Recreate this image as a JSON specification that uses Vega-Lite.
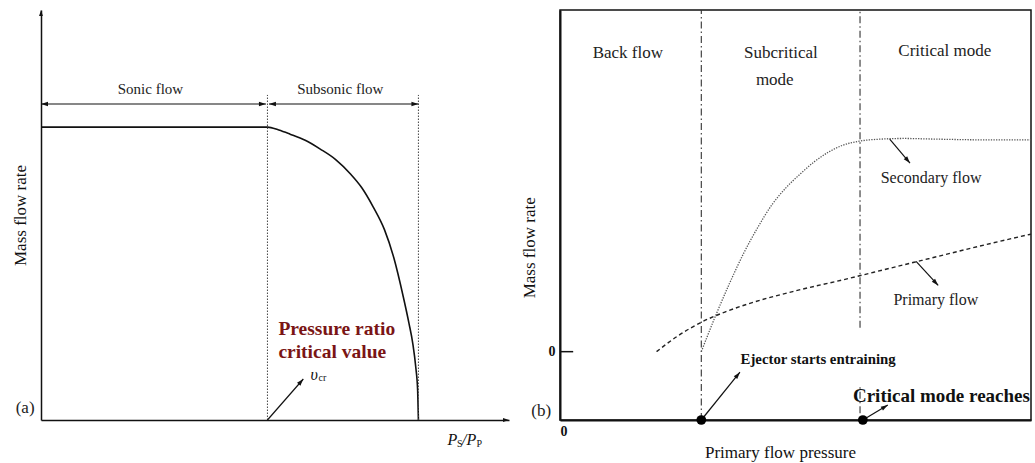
{
  "$schema": "https://vega.github.io/schema/vega-lite/v6.json",
  "background": "white",
  "padding": {"left": 11, "top": 8, "right": 4, "bottom": 4},
  "spacing": 51,
  "bounds": "flush",
  "config": {"font": "Liberation Serif", "view": {"stroke": null}},
  "datasets": {
    "flowA": [
      {"x": 0, "y": 1.0}, {"x": 0.6, "y": 1.0}, {"x": 0.63, "y": 0.99}, {"x": 0.66, "y": 0.976},
      {"x": 0.7, "y": 0.955}, {"x": 0.74, "y": 0.925}, {"x": 0.78, "y": 0.89}, {"x": 0.82, "y": 0.84},
      {"x": 0.85, "y": 0.793}, {"x": 0.88, "y": 0.728}, {"x": 0.91, "y": 0.65}, {"x": 0.935, "y": 0.553},
      {"x": 0.96, "y": 0.42}, {"x": 0.975, "y": 0.33}, {"x": 0.985, "y": 0.262}, {"x": 0.993, "y": 0.18},
      {"x": 0.998, "y": 0.1}, {"x": 1.0, "y": 0.0}
    ],
    "dottedA": [{"x": 0.6, "y": 0, "y2": 1.11}, {"x": 1.0, "y": 0, "y2": 1.11}],
    "spansA": [{"x": 0, "x2": 0.596, "y": 1.079}, {"x": 0.604, "x2": 1.0, "y": 1.079}],
    "headsLeftA": [{"x": 0, "y": 1.079}, {"x": 0.604, "y": 1.079}],
    "headsRightA": [{"x": 0.596, "y": 1.079}, {"x": 1.0, "y": 1.079}],
    "spanLabelsA": [{"x": 0.29, "y": 1.13, "label": "Sonic flow"}, {"x": 0.793, "y": 1.13, "label": "Subsonic flow"}],
    "noteA": [
      {"x": 0.629, "y": 0.311, "label": "Pressure ratio"},
      {"x": 0.629, "y": 0.232, "label": "critical value"}
    ],
    "vcrArrow": [{"x": 0.6, "y": 0, "x2": 0.695, "y2": 0.14}],
    "vcrHead": [{"x": 0.695, "y": 0.14}],
    "vcrText": [{"x": 0.714, "y": 0.154, "main": "υ", "sub": "cr"}],
    "tagA": [{"x": -0.042, "y": 0.041, "label": "(a)"}],
    "tipUpA": [{"x": 0, "y": 1.4}],
    "tipRightA": [{"x": 1.24, "y": 0}],
    "xlabA": [{"x": 1.077, "y": -0.068, "p": "P", "s": "S", "slash": "/", "pp": "P"}],
    "modesB": [
      {"x": 3.0, "y": -1, "y2": 5},
      {"x": 6.37, "y": 0.35, "y2": 5},
      {"x": 6.37, "y": -0.9, "y2": -0.5}
    ],
    "secondary": [
      {"x": 3.0, "y": 0}, {"x": 3.3, "y": 0.52}, {"x": 3.6, "y": 1.0}, {"x": 3.9, "y": 1.44},
      {"x": 4.2, "y": 1.82}, {"x": 4.5, "y": 2.15}, {"x": 4.8, "y": 2.4}, {"x": 5.1, "y": 2.6},
      {"x": 5.4, "y": 2.78}, {"x": 5.7, "y": 2.92}, {"x": 6.0, "y": 3.02}, {"x": 6.35, "y": 3.08},
      {"x": 6.8, "y": 3.11}, {"x": 7.3, "y": 3.12}, {"x": 8.0, "y": 3.11}, {"x": 9.0, "y": 3.1},
      {"x": 10.0, "y": 3.1}
    ],
    "primary": [
      {"x": 2.05, "y": 0}, {"x": 2.5, "y": 0.23}, {"x": 3.0, "y": 0.43}, {"x": 3.5, "y": 0.58},
      {"x": 4.0, "y": 0.7}, {"x": 5.0, "y": 0.89}, {"x": 6.0, "y": 1.05}, {"x": 7.0, "y": 1.22},
      {"x": 8.0, "y": 1.39}, {"x": 9.0, "y": 1.56}, {"x": 10.0, "y": 1.72}
    ],
    "tickB": [{"x": 0, "x2": 0.28, "y": 0}],
    "arrowsB": [
      {"name": "ejector", "x": 3.0, "y": -1, "x2": 3.82, "y2": -0.3},
      {"name": "critical", "x": 6.43, "y": -1, "x2": 6.96, "y2": -0.78},
      {"name": "secondary", "x": 7.0, "y": 3.11, "x2": 7.43, "y2": 2.76},
      {"name": "primary", "x": 7.56, "y": 1.32, "x2": 8.03, "y2": 0.97}
    ],
    "headsB": [
      {"name": "ejector", "x": 3.82, "y": -0.3},
      {"name": "critical", "x": 6.96, "y": -0.78},
      {"name": "secondary", "x": 7.43, "y": 2.76},
      {"name": "primary", "x": 8.03, "y": 0.97}
    ],
    "dotsB": [{"x": 3.0, "y": -1}, {"x": 6.43, "y": -1}],
    "modeLabels": [
      {"x": 1.44, "y": 4.37, "label": "Back flow"},
      {"x": 4.69, "y": 4.37, "label": "Subcritical"},
      {"x": 4.56, "y": 3.98, "label": "mode"},
      {"x": 8.17, "y": 4.4, "label": "Critical mode"}
    ],
    "flowLabels": [
      {"x": 7.88, "y": 2.54, "label": "Secondary flow"},
      {"x": 7.98, "y": 0.757, "label": "Primary flow"}
    ],
    "ejectorLabel": [{"x": 5.48, "y": -0.12, "label": "Ejector starts entraining"}],
    "criticalLabel": [{"x": 6.22, "y": -0.65, "label": "Critical mode reaches"}],
    "tagB": [{"x": -0.4, "y": -0.87, "label": "(b)"}],
    "ytitleB": [{"x": -0.64, "y": 1.52, "label": "Mass flow rate"}]
  },
  "hconcat": [
    {
      "width": 468,
      "height": 410,
      "view": {"stroke": null},
      "encoding": {
        "x": {"field": "x", "type": "quantitative", "scale": {"domain": [0, 1.24], "nice": false, "zero": false},
          "axis": {"title": null, "ticks": false, "labels": false, "grid": false, "domainColor": "#111", "domainWidth": 1.5}},
        "y": {"field": "y", "type": "quantitative", "scale": {"domain": [0, 1.4], "nice": false, "zero": false},
          "axis": {"title": "Mass flow rate", "ticks": false, "labels": false, "grid": false, "domainColor": "#111", "domainWidth": 1.5,
            "titleFont": "Liberation Serif", "titleFontSize": 17, "titleFontWeight": "normal", "titleColor": "#111", "titlePadding": 12}}
      },
      "layer": [
        {"data": {"name": "flowA"}, "mark": {"type": "line", "interpolate": "monotone", "color": "#111", "strokeWidth": 1.6}},
        {"data": {"name": "dottedA"}, "mark": {"type": "rule", "color": "#444", "strokeWidth": 1, "strokeDash": [1.5, 1.5]},
          "encoding": {"y2": {"field": "y2"}}},
        {"data": {"name": "spansA"}, "mark": {"type": "rule", "color": "#111", "strokeWidth": 1.2},
          "encoding": {"x2": {"field": "x2"}}},
        {"data": {"name": "headsLeftA"}, "mark": {"type": "point", "shape": "M0,0L-0.32,1L0.32,1Z", "angle": 270, "filled": true, "size": 196, "color": "#111", "opacity": 1}},
        {"data": {"name": "headsRightA"}, "mark": {"type": "point", "shape": "M0,0L-0.32,1L0.32,1Z", "angle": 90, "filled": true, "size": 196, "color": "#111", "opacity": 1}},
        {"data": {"name": "spanLabelsA"}, "mark": {"type": "text", "fontSize": 15, "baseline": "middle", "align": "center", "color": "#222"},
          "encoding": {"text": {"field": "label"}}},
        {"data": {"name": "noteA"}, "mark": {"type": "text", "fontSize": 19.5, "fontWeight": "bold", "baseline": "middle", "align": "left", "color": "#7a1515"},
          "encoding": {"text": {"field": "label"}}},
        {"data": {"name": "vcrArrow"}, "mark": {"type": "rule", "color": "#111", "strokeWidth": 1.2},
          "encoding": {"x2": {"field": "x2"}, "y2": {"field": "y2"}}},
        {"data": {"name": "vcrHead"}, "mark": {"type": "point", "shape": "M0,0L-0.32,1L0.32,1Z", "angle": 41, "filled": true, "size": 196, "color": "#111", "opacity": 1}},
        {"data": {"name": "vcrText"}, "mark": {"type": "text", "fontSize": 16, "fontStyle": "italic", "baseline": "middle", "align": "left", "color": "#111"},
          "encoding": {"text": {"field": "main"}}},
        {"data": {"name": "vcrText"}, "mark": {"type": "text", "fontSize": 10, "baseline": "middle", "align": "left", "dx": 8, "dy": 3, "color": "#111"},
          "encoding": {"text": {"field": "sub"}}},
        {"data": {"name": "tagA"}, "mark": {"type": "text", "fontSize": 17, "baseline": "middle", "align": "center", "color": "#222"},
          "encoding": {"text": {"field": "label"}}},
        {"data": {"name": "tipUpA"}, "mark": {"type": "point", "shape": "M0,0L-0.32,1L0.32,1Z", "angle": 0, "filled": true, "size": 144, "color": "#111", "opacity": 1}},
        {"data": {"name": "tipRightA"}, "mark": {"type": "point", "shape": "M0,0L-0.32,1L0.32,1Z", "angle": 90, "filled": true, "size": 144, "color": "#111", "opacity": 1}},
        {"data": {"name": "xlabA"}, "mark": {"type": "text", "fontSize": 16, "fontStyle": "italic", "baseline": "middle", "align": "left", "color": "#111"},
          "encoding": {"text": {"field": "p"}}},
        {"data": {"name": "xlabA"}, "mark": {"type": "text", "fontSize": 10, "baseline": "middle", "align": "left", "dx": 9.5, "dy": 4, "color": "#111"},
          "encoding": {"text": {"field": "s"}}},
        {"data": {"name": "xlabA"}, "mark": {"type": "text", "fontSize": 16, "fontStyle": "italic", "baseline": "middle", "align": "left", "dx": 14.5, "color": "#111"},
          "encoding": {"text": {"field": "slash"}}},
        {"data": {"name": "xlabA"}, "mark": {"type": "text", "fontSize": 16, "fontStyle": "italic", "baseline": "middle", "align": "left", "dx": 19, "color": "#111"},
          "encoding": {"text": {"field": "p"}}},
        {"data": {"name": "xlabA"}, "mark": {"type": "text", "fontSize": 10, "baseline": "middle", "align": "left", "dx": 29, "dy": 4, "color": "#111"},
          "encoding": {"text": {"field": "pp"}}}
      ]
    },
    {
      "width": 471,
      "height": 410,
      "view": {"stroke": "#111", "strokeWidth": 1.5},
      "encoding": {
        "x": {"field": "x", "type": "quantitative", "scale": {"domain": [0, 10], "nice": false, "zero": false},
          "axis": {"values": [0], "ticks": false, "grid": false, "domainColor": "#111", "domainWidth": 2,
            "labelFont": "Liberation Serif", "labelFontSize": 14, "labelFontWeight": "bold", "labelColor": "#111", "labelPadding": 4,
            "title": "Primary flow pressure", "titleFont": "Liberation Serif", "titleFontSize": 17, "titleFontWeight": "normal",
            "titleColor": "#111", "titlePadding": 6, "titleX": 220}},
        "y": {"field": "y", "type": "quantitative", "scale": {"domain": [-1, 5], "nice": false, "zero": false},
          "axis": {"values": [0], "ticks": false, "grid": false, "domainColor": "#111", "domainWidth": 2,
            "labelFont": "Liberation Serif", "labelFontSize": 14, "labelFontWeight": "bold", "labelColor": "#111", "labelPadding": 5, "title": null}}
      },
      "layer": [
        {"data": {"name": "modesB"}, "mark": {"type": "rule", "color": "#333", "strokeWidth": 1.1, "strokeDash": [7, 3, 1.5, 3]},
          "encoding": {"y2": {"field": "y2"}}},
        {"data": {"name": "secondary"}, "mark": {"type": "line", "interpolate": "monotone", "color": "#555", "strokeWidth": 1.3, "strokeDash": [1.3, 1.3]}},
        {"data": {"name": "primary"}, "mark": {"type": "line", "interpolate": "monotone", "color": "#222", "strokeWidth": 1.4, "strokeDash": [4, 3]}},
        {"data": {"name": "tickB"}, "mark": {"type": "rule", "color": "#111", "strokeWidth": 1.5},
          "encoding": {"x2": {"field": "x2"}}},
        {"data": {"name": "arrowsB"}, "mark": {"type": "rule", "color": "#111", "strokeWidth": 1.2},
          "encoding": {"x2": {"field": "x2"}, "y2": {"field": "y2"}}},
        {"data": {"name": "headsB"}, "transform": [{"filter": "datum.name === 'ejector'"}],
          "mark": {"type": "point", "shape": "M0,0L-0.32,1L0.32,1Z", "angle": 39, "filled": true, "size": 196, "color": "#111", "opacity": 1}},
        {"data": {"name": "headsB"}, "transform": [{"filter": "datum.name === 'critical'"}],
          "mark": {"type": "point", "shape": "M0,0L-0.32,1L0.32,1Z", "angle": 59, "filled": true, "size": 196, "color": "#111", "opacity": 1}},
        {"data": {"name": "headsB"}, "transform": [{"filter": "datum.name === 'secondary'"}],
          "mark": {"type": "point", "shape": "M0,0L-0.32,1L0.32,1Z", "angle": 140, "filled": true, "size": 196, "color": "#111", "opacity": 1}},
        {"data": {"name": "headsB"}, "transform": [{"filter": "datum.name === 'primary'"}],
          "mark": {"type": "point", "shape": "M0,0L-0.32,1L0.32,1Z", "angle": 137, "filled": true, "size": 196, "color": "#111", "opacity": 1}},
        {"data": {"name": "dotsB"}, "mark": {"type": "point", "shape": "circle", "filled": true, "size": 95, "color": "#000", "opacity": 1}},
        {"data": {"name": "modeLabels"}, "mark": {"type": "text", "fontSize": 17, "baseline": "middle", "align": "center", "color": "#222"},
          "encoding": {"text": {"field": "label"}}},
        {"data": {"name": "flowLabels"}, "mark": {"type": "text", "fontSize": 16, "baseline": "middle", "align": "center", "color": "#222"},
          "encoding": {"text": {"field": "label"}}},
        {"data": {"name": "ejectorLabel"}, "mark": {"type": "text", "fontSize": 14.8, "fontWeight": "bold", "baseline": "middle", "align": "center", "color": "#111"},
          "encoding": {"text": {"field": "label"}}},
        {"data": {"name": "criticalLabel"}, "mark": {"type": "text", "fontSize": 19, "fontWeight": "bold", "baseline": "middle", "align": "left", "color": "#111"},
          "encoding": {"text": {"field": "label"}}},
        {"data": {"name": "tagB"}, "mark": {"type": "text", "fontSize": 17, "baseline": "middle", "align": "center", "color": "#222"},
          "encoding": {"text": {"field": "label"}}},
        {"data": {"name": "ytitleB"}, "mark": {"type": "text", "fontSize": 17, "angle": 270, "baseline": "middle", "align": "center", "color": "#111"},
          "encoding": {"text": {"field": "label"}}}
      ]
    }
  ]
}
